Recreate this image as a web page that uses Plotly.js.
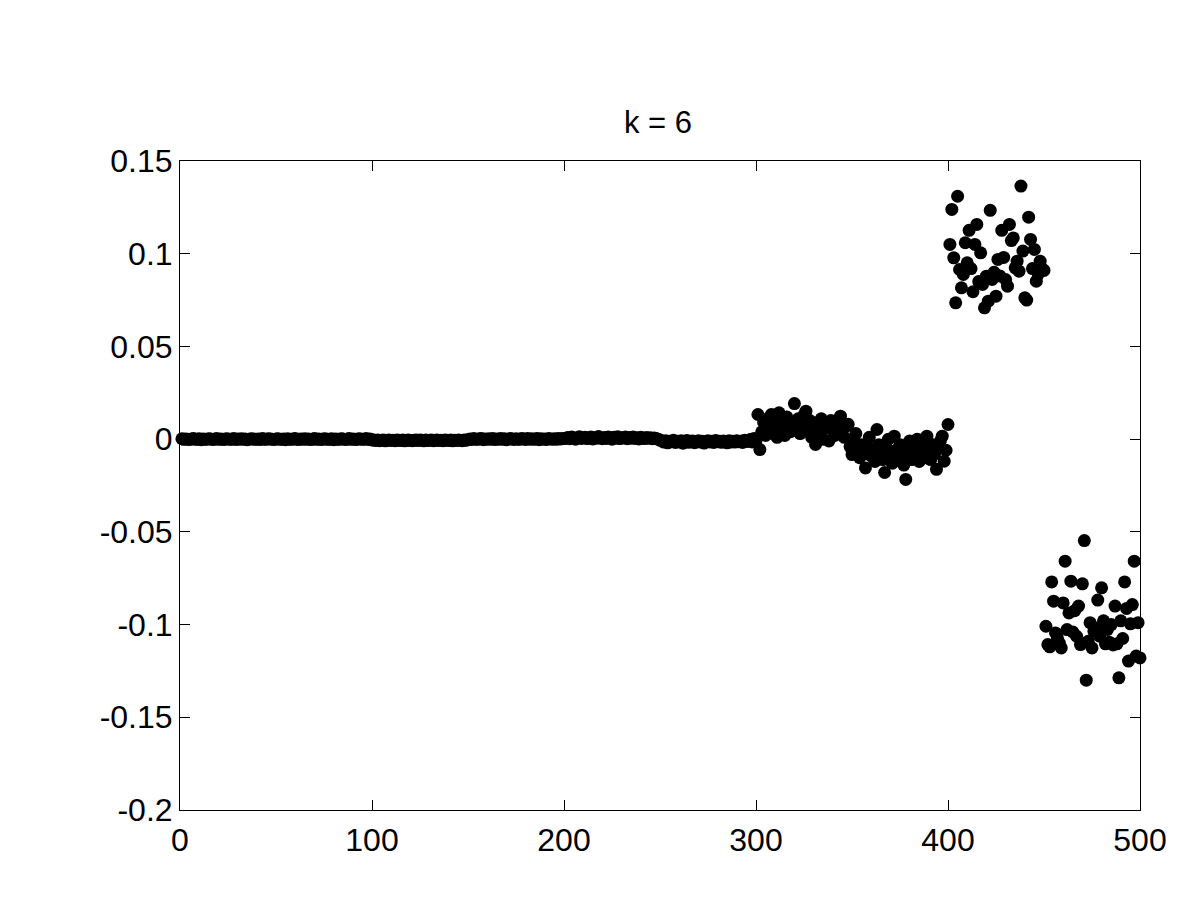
<!DOCTYPE html>
<html>
<head>
<meta charset="utf-8">
<script src="https://cdn.plot.ly/plotly-3.0.1.min.js"></script>
<style>
  html, body { margin: 0; padding: 0; background: #fff; }
  #unique_plot { width: 1200px; height: 900px; }
</style>
</head>
<body>
<div id="unique_plot"></div>
<script>
/*
 * ~~~~~~~~~~~~~~~~~~~~~~~~~~~~~~~~~~~~~~~~~~~~~~~~
 * Data (index 1..500)
 * ~~~~~~~~~~~~~~~~~~~~~~~~~~~~~~~~~~~~~~~~~~~~~~~~
 */

const chartTitle = 'k = 6';

// indices 1-100
const seg1 = [
  0.0002, -0.0001, 0.0001, 0.0000, -0.0002, 0.0001, 0.0003, -0.0001, 0.0000, 0.0002,
  -0.0003, 0.0001, 0.0000, -0.0001, 0.0002, 0.0001, -0.0002, 0.0000, 0.0003, -0.0001,
  0.0001, 0.0000, -0.0002, 0.0002, 0.0001, -0.0001, 0.0000, 0.0003, -0.0002, 0.0001,
  0.0000, 0.0002, -0.0001, 0.0001, -0.0003, 0.0000, 0.0002, 0.0001, -0.0001, 0.0000,
  0.0001, -0.0002, 0.0003, 0.0000, -0.0001, 0.0002, 0.0001, 0.0000, -0.0002, 0.0001,
  0.0002, -0.0001, 0.0000, 0.0001, -0.0003, 0.0002, 0.0000, -0.0001, 0.0001, 0.0003,
  -0.0002, 0.0000, 0.0001, -0.0001, 0.0002, 0.0000, 0.0001, -0.0002, 0.0000, 0.0003,
  -0.0001, 0.0001, 0.0000, -0.0002, 0.0002, 0.0001, -0.0001, 0.0000, 0.0002, -0.0003,
  0.0001, 0.0000, -0.0001, 0.0002, 0.0001, -0.0002, 0.0000, 0.0003, -0.0001, 0.0001,
  0.0000, -0.0002, 0.0002, 0.0001, -0.0001, 0.0000, 0.0003, -0.0002, 0.0001, -0.0004
];

// indices 101-150
const seg2 = [
  -0.0005, -0.0007, -0.0004, -0.0008, -0.0006, -0.0005, -0.0009, -0.0006, -0.0004, -0.0007,
  -0.0006, -0.0008, -0.0005, -0.0006, -0.0007, -0.0004, -0.0009, -0.0006, -0.0005, -0.0007,
  -0.0008, -0.0006, -0.0004, -0.0007, -0.0005, -0.0006, -0.0009, -0.0005, -0.0007, -0.0006,
  -0.0004, -0.0008, -0.0006, -0.0005, -0.0007, -0.0006, -0.0008, -0.0004, -0.0006, -0.0007,
  -0.0005, -0.0009, -0.0006, -0.0007, -0.0004, -0.0006, -0.0008, -0.0005, -0.0006, -0.0003
];

// indices 151-200
const seg3 = [
  0.0001, -0.0002, 0.0003, 0.0000, -0.0001, 0.0002, 0.0004, -0.0003, 0.0001, 0.0000,
  0.0002, -0.0001, 0.0003, -0.0002, 0.0001, 0.0000, 0.0004, -0.0001, 0.0002, -0.0003,
  0.0000, 0.0003, 0.0001, -0.0002, 0.0002, 0.0000, -0.0001, 0.0004, 0.0001, -0.0002,
  0.0003, 0.0000, 0.0002, -0.0001, 0.0001, 0.0004, -0.0003, 0.0002, 0.0000, 0.0001,
  -0.0002, 0.0003, 0.0001, 0.0000, 0.0002, -0.0001, 0.0004, 0.0001, 0.0002, 0.0003
];

// indices 201-250
const seg4 = [
  0.0005, 0.0009, 0.0002, 0.0011, 0.0006, 0.0000, 0.0008, 0.0013, 0.0004, 0.0007,
  0.0010, 0.0003, 0.0006, 0.0012, 0.0001, 0.0008, 0.0005, 0.0014, 0.0006, 0.0002,
  0.0009, 0.0004, 0.0011, 0.0007, 0.0000, 0.0010, 0.0005, 0.0013, 0.0003, 0.0008,
  0.0006, 0.0011, 0.0002, 0.0009, 0.0005, 0.0012, 0.0004, 0.0007, 0.0001, 0.0010,
  0.0006, 0.0003, 0.0009, 0.0005, 0.0008, 0.0002, 0.0006, 0.0004, 0.0000, -0.0005
];

// indices 251-300
const seg5 = [
  -0.0010, -0.0016, -0.0008, -0.0020, -0.0012, -0.0014, -0.0006, -0.0018, -0.0011, -0.0015,
  -0.0009, -0.0022, -0.0013, -0.0007, -0.0017, -0.0012, -0.0010, -0.0019, -0.0014, -0.0008,
  -0.0016, -0.0011, -0.0021, -0.0013, -0.0009, -0.0015, -0.0012, -0.0018, -0.0007, -0.0014,
  -0.0011, -0.0017, -0.0010, -0.0013, -0.0020, -0.0008, -0.0015, -0.0012, -0.0016, -0.0009,
  -0.0014, -0.0011, -0.0018, -0.0006, -0.0013, -0.0010, -0.0002, -0.0015, 0.0004, -0.0008
];

// indices 301-400
const seg6 = [
  0.0133, -0.0056, 0.0040, 0.0090, 0.0020, 0.0110, 0.0060, 0.0133, 0.0030, 0.0080,
  0.0010, 0.0142, 0.0050, 0.0100, 0.0020, 0.0120, 0.0070, 0.0040, 0.0090, 0.0192,
  0.0060, 0.0110, 0.0030, 0.0080, 0.0130, 0.0151, 0.0050, 0.0100, 0.0010, 0.0070,
  -0.0029, 0.0090, 0.0040, 0.0110, 0.0000, 0.0060, 0.0080, -0.0010, 0.0100, 0.0050,
  0.0020, 0.0090, 0.0030, 0.0124, 0.0060, 0.0010, 0.0070, 0.0080, -0.0040, -0.0083,
  -0.0020, 0.0030, -0.0060, -0.0100, -0.0030, -0.0080, -0.0155, -0.0040, 0.0010, -0.0090,
  -0.0060, -0.0120, 0.0052, -0.0030, -0.0070, -0.0110, -0.0180, -0.0050, 0.0000, -0.0080,
  -0.0130, 0.0016, -0.0060, -0.0100, -0.0030, -0.0090, -0.0140, -0.0217, -0.0070, -0.0010,
  -0.0110, -0.0050, -0.0080, 0.0000, -0.0120, -0.0060, -0.0030, -0.0100, 0.0016, -0.0020,
  -0.0110, -0.0050, -0.0080, -0.0163, -0.0040, -0.0010, 0.0016, -0.0119, -0.0060, 0.0079
];

// indices 401-450
const seg7 = [
  0.1050, 0.1239, 0.0978, 0.0735, 0.1310, 0.0915, 0.0816, 0.0888, 0.1059, 0.0951,
  0.1126, 0.0920, 0.0795, 0.1050, 0.1158, 0.0850, 0.1005, 0.0834, 0.0708, 0.0879,
  0.0744, 0.1234, 0.0861, 0.0900, 0.0771, 0.0969, 0.0880, 0.1126, 0.0980, 0.0861,
  0.0825, 0.1158, 0.1071, 0.1085, 0.0924, 0.0960, 0.0906, 0.1365, 0.1014, 0.0762,
  0.0750, 0.1197, 0.1077, 0.0920, 0.1023, 0.0852, 0.0890, 0.0960, 0.0920, 0.0910
];

// indices 451-500
const seg8 = [
  -0.1009, -0.1108, -0.1120, -0.0770, -0.0874, -0.1045, -0.1072, -0.1100, -0.1126, -0.0883,
  -0.0658, -0.1027, -0.0937, -0.0766, -0.1040, -0.0925, -0.1063, -0.0900, -0.1108, -0.0780,
  -0.0547, -0.1300, -0.1090, -0.0990, -0.1126, -0.1036, -0.1018, -0.0868, -0.1063, -0.0802,
  -0.0980, -0.1104, -0.1027, -0.1095, -0.1000, -0.1110, -0.0900, -0.1104, -0.1287, -0.0980,
  -0.1075, -0.0770, -0.0913, -0.1197, -0.0996, -0.0892, -0.0658, -0.1170, -0.0990, -0.1180
];

const xTicks = [0, 100, 200, 300, 400, 500];
const yTicks = [-0.2, -0.15, -0.1, -0.05, 0, 0.05, 0.1, 0.15];
const yTickText = ['-0.2', '-0.15', '-0.1', '-0.05', '0', '0.05', '0.1', '0.15'];

/*
 * ~~~~~~~~~~~~~~~~~~~~~~~~~~~~~~~~~~~~~~~~~~~~~~~~
 * Plot
 * ~~~~~~~~~~~~~~~~~~~~~~~~~~~~~~~~~~~~~~~~~~~~~~~~
 */

const values = [].concat(seg1, seg2, seg3, seg4, seg5, seg6, seg7, seg8);
const index = values.map((_, i) => i + 1);

const fontFamily = '"Liberation Sans", Arial, sans-serif';
const tickFont = {family: fontFamily, size: 32, color: '#000'};

const axisStyle = {
  showgrid: false,
  zeroline: false,
  showline: true,
  mirror: 'ticks',
  linecolor: '#000',
  linewidth: 1,
  ticks: 'inside',
  ticklen: 10,
  tickcolor: '#000',
  tickfont: tickFont,
};

const makePlot = () => {
  const div = document.getElementById('unique_plot');

  const data = [{
    type: 'scatter',
    mode: 'markers',
    x: index,
    y: values,
    cliponaxis: false,
    marker: {
      color: '#000',
      size: 13,
      line: {width: 0},
    },
    hoverinfo: 'x+y',
  }];

  const layout = {
    width: 1200,
    height: 900,
    autosize: false,
    showlegend: false,
    paper_bgcolor: '#fff',
    plot_bgcolor: '#fff',
    margin: {l: 180, r: 60, t: 161, b: 90},
    title: {
      text: chartTitle,
      font: {family: fontFamily, size: 31, color: '#000'},
      x: 658 / 1200,
      xanchor: 'center',
      xref: 'container',
      y: 1 - 122 / 900,
      yref: 'container',
      yanchor: 'middle',
    },
    xaxis: {
      ...axisStyle,
      range: [0, 500],
      tickmode: 'array',
      tickvals: xTicks,
      ticktext: xTicks.map(String),
      ticklabelstandoff: 2,
    },
    yaxis: {
      ...axisStyle,
      range: [-0.2, 0.15],
      tickmode: 'array',
      tickvals: yTicks,
      ticktext: yTickText,
    },
  };

  Plotly.newPlot(div, data, layout, {staticPlot: true});
};

makePlot();
</script>
</body>
</html>
